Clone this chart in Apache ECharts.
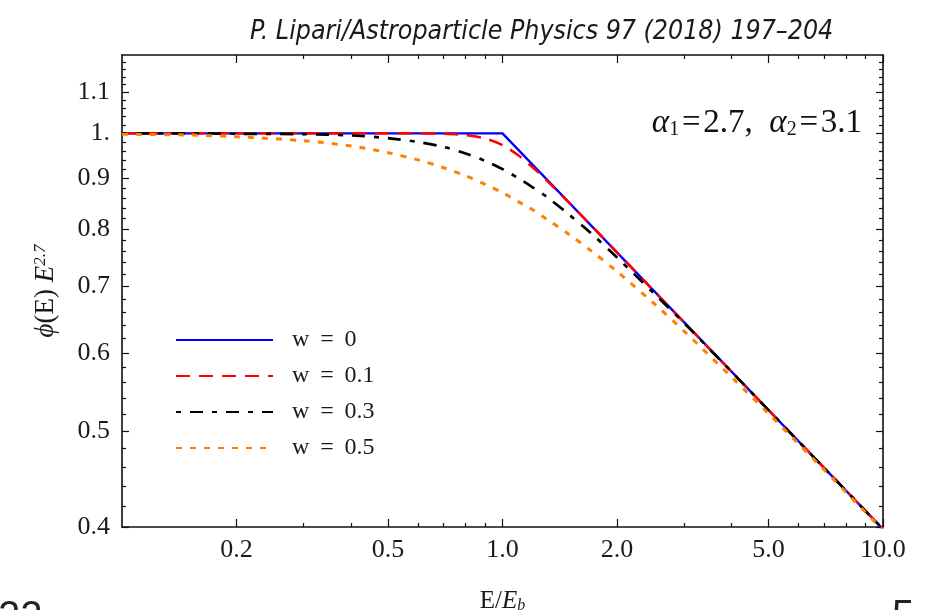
<!DOCTYPE html>
<html>
<head>
<meta charset="utf-8">
<script src="https://cdn.jsdelivr.net/npm/echarts@6/dist/echarts.min.js"></script>
<style>
html, body { margin: 0; padding: 0; background: #fff; }
#chart { width: 936px; height: 610px; }
</style>
</head>
<body>
<div id="chart"></div>
<script>
// Energy in units of the break energy E/E_b
const energy = [0.1, 0.15, 0.2, 0.3, 0.4, 0.5, 0.6, 0.7, 0.8, 0.9, 1.0, 1.1, 1.2, 1.3, 1.5, 1.7, 2.0, 2.5, 3.0, 4.0, 5.0, 7.0, 10.0];

// Sharp break (w = 0)
const energySharp = [0.1, 1.0, 10.0];
const fluxSharp = [1.0, 1.0, 0.398];

// Smooth breaks, phi(E) E^2.7
const fluxW01 = [1.0, 1.0, 1.0, 1.0, 1.0, 1.0, 1.0, 0.999, 0.996, 0.988, 0.973, 0.950, 0.924, 0.898, 0.850, 0.809, 0.758, 0.693, 0.644, 0.574, 0.525, 0.459, 0.398];
const fluxW03 = [1.0, 1.0, 0.999, 0.998, 0.995, 0.989, 0.980, 0.969, 0.954, 0.938, 0.920, 0.901, 0.882, 0.864, 0.827, 0.794, 0.749, 0.689, 0.643, 0.574, 0.525, 0.459, 0.398];
const fluxW05 = [0.998, 0.996, 0.992, 0.983, 0.971, 0.956, 0.940, 0.923, 0.906, 0.888, 0.871, 0.853, 0.837, 0.820, 0.790, 0.762, 0.725, 0.673, 0.631, 0.567, 0.521, 0.457, 0.397];

const seriesNames = ['w \u2009= \u20090', 'w \u2009= \u20090.1', 'w \u2009= \u20090.3', 'w \u2009= \u20090.5'];

// Tick positions
const xMajorTicks = [0.2, 0.5, 1, 2, 5, 10];
const xMinorTicks = [0.3, 0.4, 0.6, 0.7, 0.8, 0.9, 3, 4, 6, 7, 8, 9];
const yMajorTicks = [0.4, 0.5, 0.6, 0.7, 0.8, 0.9, 1.0, 1.1];
const yMinorTicks = [0.42, 0.44, 0.46, 0.48, 0.52, 0.54, 0.56, 0.58, 0.62, 0.64, 0.66, 0.68,
                     0.72, 0.74, 0.76, 0.78, 0.82, 0.84, 0.86, 0.88, 0.92, 0.94, 0.96, 0.98,
                     1.02, 1.04, 1.06, 1.08, 1.12, 1.14, 1.16, 1.18];

const X_MIN = 0.1, X_MAX = 10;
const Y_MIN = 0.4, Y_MAX = 1.2;

const SERIF = "'Liberation Serif', 'Times New Roman', serif";
const frameColor = '#111';
const textColor = '#1a1a1a';

const gridRect = { left: 122, right: 53, top: 55, bottom: 83 };

function logAxis(gridIndex, position, min, max, ticks, tickLen, withLine, labelOpt, extra) {
  return Object.assign({
    type: 'log',
    logBase: 10,
    gridIndex: gridIndex,
    position: position,
    min: min,
    max: max,
    axisLine: { show: withLine, onZero: false, lineStyle: { color: frameColor, width: 1.6 } },
    axisTick: { show: true, inside: true, length: tickLen, customValues: ticks,
                lineStyle: { color: frameColor, width: 1.2 } },
    axisLabel: labelOpt || { show: false },
    splitLine: { show: false },
    minorTick: { show: false }
  }, extra || {});
}

const xLabel = {
  show: true, customValues: xMajorTicks, margin: 10,
  fontFamily: SERIF, fontSize: 26, color: textColor,
  formatter: v => Number(v).toFixed(1)
};
const yLabel = {
  show: true, customValues: yMajorTicks, margin: 12,
  fontFamily: SERIF, fontSize: 26, color: textColor,
  formatter: v => (Math.abs(v - 1) < 1e-9 ? '1.' : Number(v).toFixed(1))
};

const chart = echarts.init(document.getElementById('chart'), null, { renderer: 'canvas' });

chart.setOption({
  backgroundColor: '#fff',
  animation: false,
  grid: [
    Object.assign({ containLabel: false, outerBoundsMode: 'none' }, gridRect),
    Object.assign({ containLabel: false, outerBoundsMode: 'none' }, gridRect)
  ],
  xAxis: [
    logAxis(0, 'bottom', X_MIN, X_MAX, xMajorTicks, 8, true, xLabel, {
      name: 'E/{i|E}{sub|b}', nameLocation: 'middle', nameGap: 62,
      nameTextStyle: {
        fontFamily: SERIF, fontSize: 25, color: textColor,
        rich: {
          i: { fontFamily: SERIF, fontSize: 25, fontStyle: 'italic', color: textColor },
          sub: { fontFamily: SERIF, fontSize: 16, fontStyle: 'italic', color: textColor, verticalAlign: 'bottom', lineHeight: 16 }
        }
      }
    }),
    logAxis(0, 'top', X_MIN, X_MAX, xMajorTicks, 8, true, null),
    logAxis(1, 'bottom', X_MIN, X_MAX, xMinorTicks, 4, false, null),
    logAxis(1, 'top', X_MIN, X_MAX, xMinorTicks, 4, false, null)
  ],
  yAxis: [
    logAxis(0, 'left', Y_MIN, Y_MAX, yMajorTicks, 7, true, yLabel, {
      name: '{i|\u03D5}(E) {i|E}{sup|2.7}', nameLocation: 'middle', nameGap: 63, nameRotate: 90,
      nameTextStyle: {
        fontFamily: SERIF, fontSize: 27, color: textColor,
        rich: {
          i: { fontFamily: SERIF, fontSize: 27, fontStyle: 'italic', color: textColor },
          sup: { fontFamily: SERIF, fontSize: 17, fontStyle: 'italic', color: textColor, verticalAlign: 'top', lineHeight: 17 }
        }
      }
    }),
    logAxis(0, 'right', Y_MIN, Y_MAX, yMajorTicks, 7, true, null),
    logAxis(1, 'left', Y_MIN, Y_MAX, yMinorTicks, 4, false, null),
    logAxis(1, 'right', Y_MIN, Y_MAX, yMinorTicks, 4, false, null)
  ],
  legend: {
    orient: 'vertical',
    left: 175,
    top: 328,
    padding: 0,
    itemWidth: 97,
    itemHeight: 1,
    itemGap: 12,
    itemStyle: { opacity: 0 },
    textStyle: { fontFamily: SERIF, fontSize: 24, lineHeight: 24, color: textColor, padding: [0, 0, 0, 14] },
    data: seriesNames
  },
  series: [
    {
      name: seriesNames[0], type: 'line', xAxisIndex: 0, yAxisIndex: 0,
      symbol: 'none', smooth: false, clip: true,
      lineStyle: { color: '#0000ff', width: 2.3, type: 'solid' },
      itemStyle: { color: '#0000ff' },
      data: energySharp.map((e, i) => [e, fluxSharp[i]])
    },
    {
      name: seriesNames[1], type: 'line', xAxisIndex: 0, yAxisIndex: 0,
      symbol: 'none', smooth: 0.3, clip: true,
      lineStyle: { color: '#ff0000', width: 2.5, type: [14, 9] },
      itemStyle: { color: '#ff0000' },
      data: energy.map((e, i) => [e, fluxW01[i]])
    },
    {
      name: seriesNames[2], type: 'line', xAxisIndex: 0, yAxisIndex: 0,
      symbol: 'none', smooth: 0.3, clip: true,
      lineStyle: { color: '#000000', width: 2.7, type: [5, 9, 13, 9] },
      itemStyle: { color: '#000000' },
      data: energy.map((e, i) => [e, fluxW03[i]])
    },
    {
      name: seriesNames[3], type: 'line', xAxisIndex: 0, yAxisIndex: 0,
      symbol: 'none', smooth: 0.3, clip: true,
      lineStyle: { color: '#ff8000', width: 3, type: [6, 8] },
      itemStyle: { color: '#ff8000' },
      data: energy.map((e, i) => [e, fluxW05[i]])
    }
  ],
  graphic: [
    {
      type: 'text', left: 250, top: 19,
      style: {
        text: 'P. Lipari/Astroparticle Physics 97 (2018) 197\u2013204',
        fontFamily: "'Liberation Sans Narrow', 'DejaVu Sans Condensed', sans-serif",
        fontStyle: 'italic', fontSize: 26.5, fill: textColor
      }
    },
    {
      type: 'text', x: 862, y: 123,
      style: {
        text: '{i|\u03B1}{s|1}{n|\u200A=\u200A2.7,\u2002}{i|\u03B1}{s|2}{n|\u200A=\u200A3.1}',
        align: 'right', verticalAlign: 'middle',
        rich: {
          i: { fontFamily: SERIF, fontSize: 33, fontStyle: 'italic', fill: '#111', lineHeight: 34 },
          n: { fontFamily: SERIF, fontSize: 33, fill: '#111', lineHeight: 34 },
          s: { fontFamily: SERIF, fontSize: 20, fill: '#111', verticalAlign: 'bottom', lineHeight: 19 }
        }
      }
    },
    {
      type: 'text', x: -2, y: 598,
      style: { text: '22', fontFamily: "'Liberation Sans', sans-serif", fontSize: 40, fill: '#222' }
    },
    {
      type: 'text', x: 892, y: 597,
      style: { text: '5', fontFamily: "'Liberation Sans', sans-serif", fontSize: 40, fill: '#222' }
    }
  ]
});
</script>
</body>
</html>
